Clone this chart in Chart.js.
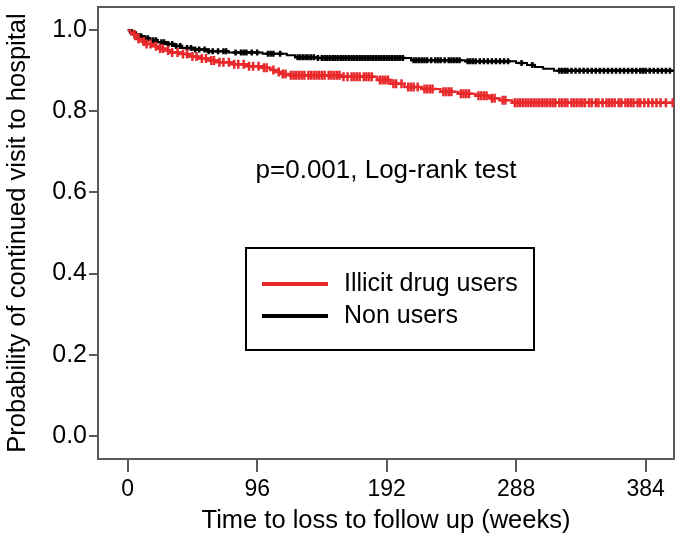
<!DOCTYPE html>
<html lang="en">
<head>
<meta charset="UTF-8">
<title>Continued visit to hospital</title>
<script src="https://cdn.jsdelivr.net/npm/chart.js"></script>
<style>
  html, body { margin: 0; padding: 0; background: #fff; }
  canvas { display: block; }
</style>
</head>
<body>
<canvas id="km" width="683" height="540"></canvas>
<script>
// Kaplan-Meier steps (weeks, survival probability)
const userTimes = [0, 2, 4, 6, 8, 11, 14, 18, 22, 27, 32, 38, 45, 52, 60, 68, 78, 88, 98, 106, 110, 114, 120, 160, 185, 195, 205, 218, 232, 245, 258, 268, 276, 285, 405];
const userSurv  = [1.0, 0.995, 0.99, 0.985, 0.978, 0.972, 0.966, 0.96, 0.955, 0.95, 0.945, 0.941, 0.935, 0.93, 0.925, 0.921, 0.916, 0.911, 0.907, 0.902, 0.897, 0.892, 0.889, 0.885, 0.877, 0.868, 0.86, 0.855, 0.848, 0.843, 0.838, 0.832, 0.827, 0.821, 0.821];
const userCensored = [5, 8, 12, 14, 17, 21, 24, 26, 30, 33, 37, 41, 44, 48, 51, 55, 58, 62, 64, 68, 71, 75, 79, 82, 86, 90, 93, 97, 101, 103, 108, 112, 115, 117, 121, 123, 125, 127, 129, 131, 134, 136, 138, 140, 142, 144, 146, 149, 151, 153, 155, 157, 160, 163, 166, 168, 170, 172, 175, 177, 179, 181, 187, 189, 191, 193, 197, 199, 203, 208, 210, 212, 215, 220, 222, 224, 226, 234, 236, 238, 240, 247, 249, 251, 253, 260, 262, 264, 266, 270, 272, 278, 280, 287, 289, 291, 293, 295, 297, 299, 301, 303, 305, 307, 309, 311, 313, 315, 317, 320, 322, 324, 326, 329, 331, 333, 335, 337, 339, 342, 344, 347, 349, 352, 355, 357, 359, 361, 364, 366, 369, 371, 373, 375, 378, 380, 383, 386, 389, 392, 395, 399, 404];

const nonTimes = [0, 2, 5, 8, 12, 17, 22, 28, 34, 40, 50, 60, 75, 100, 118, 124, 140, 210, 250, 288, 296, 302, 308, 316, 405];
const nonSurv  = [1.0, 0.995, 0.99, 0.985, 0.98, 0.975, 0.97, 0.966, 0.961, 0.956, 0.952, 0.948, 0.945, 0.942, 0.938, 0.933, 0.931, 0.926, 0.923, 0.919, 0.914, 0.909, 0.905, 0.9, 0.9];
const nonCensored = [3, 6, 8, 10, 13, 15, 19, 21, 25, 27, 30, 33, 36, 39, 44, 47, 50, 53, 57, 60, 63, 67, 71, 73, 80, 84, 86, 88, 92, 96, 104, 106, 108, 113, 126, 128, 130, 132, 134, 136, 138, 141, 144, 146, 148, 150, 152, 154, 156, 158, 160, 162, 164, 166, 168, 170, 172, 174, 176, 178, 180, 182, 184, 186, 188, 190, 192, 194, 196, 198, 200, 202, 204, 212, 214, 216, 218, 220, 222, 225, 228, 230, 232, 235, 238, 240, 242, 244, 246, 252, 254, 256, 258, 261, 264, 267, 270, 273, 276, 279, 282, 292, 300, 320, 322, 324, 326, 329, 332, 335, 338, 341, 344, 347, 350, 353, 356, 359, 362, 365, 368, 371, 374, 377, 380, 382, 384, 387, 390, 393, 396, 399, 402];

const groupLabels = ['Illicit drug users', 'Non users'];
const xTicks = [0, 96, 192, 288, 384];
const yTicks = [0, 0.2, 0.4, 0.6, 0.8, 1.0];
const testNote = 'p=0.001, Log-rank test';

const RED = '#e8282a';
const BLACK = '#000000';
const FONT = "'Liberation Sans', Arial, sans-serif";

function survAt(times, surv, t) {
  let s = surv[0];
  for (let i = 0; i < times.length; i++) {
    if (times[i] <= t) s = surv[i];
  }
  return s;
}

function stepPoints(times, surv) {
  return times.map((t, i) => ({ x: t, y: surv[i] }));
}

function censorPoints(cens, times, surv) {
  return cens.map(t => ({ x: t, y: survAt(times, surv, t) }));
}

Chart.defaults.font.family = FONT;
Chart.defaults.color = '#000';

// box around the plot area
const framePlugin = {
  id: 'frame',
  beforeDatasetsDraw(chart) {
    const a = chart.chartArea, ctx = chart.ctx;
    ctx.save();
    ctx.strokeStyle = '#5a5a5a';
    ctx.lineWidth = 2;
    ctx.strokeRect(a.left, a.top, a.right - a.left, a.bottom - a.top);
    ctx.restore();
  }
};

// test note and the boxed legend inside the plot
const notesPlugin = {
  id: 'notes',
  afterDraw(chart) {
    const ctx = chart.ctx;
    ctx.save();
    ctx.fillStyle = '#000';
    ctx.font = '26px ' + FONT;
    ctx.textAlign = 'center';
    ctx.textBaseline = 'middle';
    ctx.fillText(testNote, 386, 171);

    // legend box
    ctx.strokeStyle = '#000';
    ctx.lineWidth = 2;
    ctx.strokeRect(246, 248, 288, 102);
    const colors = [RED, BLACK];
    const rows = [284, 316];
    ctx.font = '25px ' + FONT;
    groupLabels.forEach((lab, i) => {
      ctx.strokeStyle = colors[i];
      ctx.lineWidth = 4;
      ctx.beginPath();
      ctx.moveTo(262, rows[i]);
      ctx.lineTo(328, rows[i]);
      ctx.stroke();
      ctx.textAlign = 'left';
      ctx.fillText(lab, 344, rows[i]);
    });
    ctx.restore();
  }
};

new Chart(document.getElementById('km'), {
  type: 'line',
  data: {
    datasets: [
      {
        label: groupLabels[0],
        data: stepPoints(userTimes, userSurv),
        borderColor: RED,
        borderWidth: 2,
        stepped: true,
        pointRadius: 0,
        fill: false
      },
      {
        label: groupLabels[0] + ' censored',
        data: censorPoints(userCensored, userTimes, userSurv),
        showLine: false,
        pointStyle: 'cross',
        pointRadius: 4.5,
        borderColor: RED,
        borderWidth: 2.5
      },
      {
        label: groupLabels[1],
        data: stepPoints(nonTimes, nonSurv),
        borderColor: BLACK,
        borderWidth: 2,
        stepped: true,
        pointRadius: 0,
        fill: false
      },
      {
        label: groupLabels[1] + ' censored',
        data: censorPoints(nonCensored, nonTimes, nonSurv),
        showLine: false,
        pointStyle: 'cross',
        pointRadius: 3,
        borderColor: BLACK,
        borderWidth: 2.5
      }
    ]
  },
  options: {
    responsive: false,
    animation: false,
    layout: { padding: { top: 7, right: 9, left: 0, bottom: 0 } },
    plugins: {
      legend: { display: false },
      tooltip: { enabled: false }
    },
    scales: {
      x: {
        type: 'linear',
        min: -22,
        max: 405,
        afterBuildTicks: s => { s.ticks = xTicks.map(v => ({ value: v })); },
        afterFit: s => { s.height = 81; s.paddingLeft = 0; s.paddingRight = 0; },
        ticks: { font: { size: 23 }, padding: 4, color: '#000' },
        grid: { drawOnChartArea: false, drawTicks: true, tickLength: 13, color: '#5a5a5a', lineWidth: 2 },
        border: { display: false },
        title: { display: true, text: 'Time to loss to follow up (weeks)', font: { size: 25.5 }, padding: { top: 0, bottom: 4 }, color: '#000' }
      },
      y: {
        type: 'linear',
        min: -0.057,
        max: 1.057,
        afterBuildTicks: s => { s.ticks = yTicks.map(v => ({ value: v })); },
        afterFit: s => { s.width = 98; s.paddingTop = 0; s.paddingBottom = 0; },
        ticks: { font: { size: 25 }, padding: 2, color: '#000', callback: v => v.toFixed(1) },
        grid: { drawOnChartArea: false, drawTicks: true, tickLength: 9, color: '#5a5a5a', lineWidth: 2 },
        border: { display: false },
        title: { display: true, text: 'Probability of continued visit to hospital', font: { size: 25.5 }, padding: { top: 3, bottom: 0 }, color: '#000' }
      }
    }
  },
  plugins: [framePlugin, notesPlugin]
});
</script>
</body>
</html>
